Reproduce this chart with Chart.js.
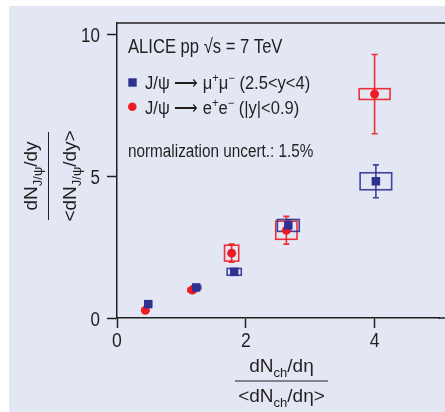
<!DOCTYPE html>
<html>
<head>
<meta charset="utf-8">
<script src="https://cdn.jsdelivr.net/npm/chart.js@4.4.1/dist/chart.umd.min.js"></script>
<style>
  html, body { margin: 0; padding: 0; background: #fff; }
  #wrap { width: 445px; height: 412px; }
</style>
</head>
<body>
<div id="wrap"><canvas id="jpsiChart" width="445" height="412"></canvas></div>
<script>
// J/psi yield vs charged-particle multiplicity (both relative to the mean)

// J/psi -> mu+ mu-  (2.5<y<4)
const muMult  = [0.485, 1.23, 1.82, 2.66, 4.02];
const muYield = [0.49, 1.08, 1.63, 3.27, 4.83];
const muStat  = [0.03, 0.05, 0.08, 0.20, 0.58];
const muSysX  = [0.05, 0.07, 0.11, 0.17, 0.245];
const muSysY  = [0.03, 0.05, 0.12, 0.21, 0.30];

// J/psi -> e+ e-  (|y|<0.9)
const eeMult  = [0.44, 1.17, 1.78, 2.63, 4.00];
const eeYield = [0.27, 0.99, 2.29, 3.10, 7.91];
const eeStat  = [0.05, 0.08, 0.32, 0.49, 1.40];
const eeSysX  = [0.05, 0.07, 0.11, 0.165, 0.24];
const eeSysY  = [0.03, 0.06, 0.28, 0.32, 0.19];

const xTicks = [0, 2, 4];
const yTicks = [0, 5, 10];

const BLUE = '#2e3192';
const RED = '#ed1c24';
const INK = '#231f20';
const FONT = "'Liberation Sans', Arial, sans-serif";

const toPoints = (xs, ys) => xs.map((v, i) => ({ x: v, y: ys[i] }));

// draws text made of normal / sub / sup pieces; sx squeezes it horizontally
function richText(ctx, parts, x, y, size, align, sx) {
  sx = sx || 1;
  const fontFor = m => (m ? Math.round(size * 0.68) : size) + 'px ' + FONT;
  let w = 0;
  parts.forEach(([t, m]) => { ctx.font = fontFor(m); w += ctx.measureText(t).width; });
  let start = 0;
  if (align === 'center') start = -w / 2;
  else if (align === 'right') start = -w;
  ctx.save();
  ctx.translate(x, y);
  ctx.scale(sx, 1);
  ctx.textBaseline = 'alphabetic';
  ctx.textAlign = 'left';
  let cx = start;
  parts.forEach(([t, m]) => {
    ctx.font = fontFor(m);
    const dy = m === 'sub' ? size * 0.28 : m === 'sup' ? -size * 0.38 : 0;
    ctx.fillText(t, cx, dy);
    cx += ctx.measureText(t).width;
  });
  ctx.restore();
  return w * sx;
}

// statistical error bars and systematic boxes under the markers
const uncertPlugin = {
  id: 'uncert',
  beforeDatasetsDraw(chart) {
    const { ctx, scales: { x, y } } = chart;
    ctx.save();
    chart.data.datasets.slice().reverse().forEach(ds => {
      ctx.strokeStyle = ds.boxColor;
      ctx.lineWidth = 1.6;
      ds.data.forEach((p, i) => {
        const px = x.getPixelForValue(p.x);
        const l = x.getPixelForValue(p.x - ds.sysX[i]);
        const r = x.getPixelForValue(p.x + ds.sysX[i]);
        const t = y.getPixelForValue(p.y + ds.sysY[i]);
        const b = y.getPixelForValue(p.y - ds.sysY[i]);
        ctx.strokeRect(l, t, r - l, b - t);
        const et = y.getPixelForValue(p.y + ds.stat[i]);
        const eb = y.getPixelForValue(p.y - ds.stat[i]);
        ctx.beginPath();
        ctx.moveTo(px, et); ctx.lineTo(px, eb);
        ctx.moveTo(px - 3, et); ctx.lineTo(px + 3, et);
        ctx.moveTo(px - 3, eb); ctx.lineTo(px + 3, eb);
        ctx.stroke();
      });
    });
    ctx.restore();
  }
};

// panel background, frame lines, tick labels, legend block and axis titles
const framePlugin = {
  id: 'frame',
  beforeDraw(chart) {
    const ctx = chart.ctx;
    ctx.save();
    ctx.fillStyle = '#fff';
    ctx.fillRect(0, 0, chart.width, chart.height);
    ctx.fillStyle = '#e3e7f3';
    ctx.fillRect(9, 6, chart.width - 9, chart.height - 6);
    ctx.restore();
  },
  afterDraw(chart) {
    const { ctx, chartArea: a, scales: { x, y } } = chart;
    ctx.save();
    ctx.strokeStyle = INK;
    ctx.lineWidth = 1.5;
    ctx.beginPath();
    ctx.moveTo(a.left, a.top);
    ctx.lineTo(chart.width, a.top);
    // the frame runs on past the last tick to the panel edge
    const y0 = y.getPixelForValue(0);
    ctx.moveTo(a.right - 1, y0);
    ctx.lineTo(chart.width, y0);
    ctx.stroke();

    ctx.fillStyle = INK;
    xTicks.forEach(v => richText(ctx, [[String(v), '']], x.getPixelForValue(v), a.bottom + 29, 20, 'center', 0.88));
    yTicks.forEach(v => richText(ctx, [[String(v), '']], a.left - 17, y.getPixelForValue(v) + 7.5, 20, 'right', 0.85));

    richText(ctx, [['ALICE pp \u221As = 7 TeV', '']], 128, 53, 20, 'left', 0.83);

    ctx.fillStyle = BLUE;
    ctx.fillRect(128.3, 78.3, 8.4, 8.4);
    ctx.fillStyle = RED;
    ctx.beginPath();
    ctx.arc(132.3, 106.7, 4.3, 0, Math.PI * 2);
    ctx.fill();

    ctx.fillStyle = INK;
    richText(ctx, [['J/\u03C8 \u27F6 \u03BC', ''], ['+', 'sup'], ['\u03BC', ''], ['\u2212', 'sup'], [' (2.5<y<4)', '']], 145, 88.5, 18, 'left', 0.92);
    richText(ctx, [['J/\u03C8 \u27F6 e', ''], ['+', 'sup'], ['e', ''], ['\u2212', 'sup'], [' (|y|<0.9)', '']], 145, 114, 18, 'left', 0.92);
    richText(ctx, [['normalization uncert.: 1.5%', '']], 128, 157, 18, 'left', 0.85);

    // x title as a fraction
    const xc = 281.5;
    richText(ctx, [['dN', ''], ['ch', 'sub'], ['/d\u03B7', '']], xc, 372, 19, 'center');
    richText(ctx, [['<dN', ''], ['ch', 'sub'], ['/d\u03B7>', '']], xc, 401.5, 19, 'center');
    ctx.beginPath();
    ctx.lineWidth = 1;
    ctx.moveTo(235, 381); ctx.lineTo(328, 381);
    ctx.stroke();

    // y title, rotated
    ctx.translate(48.5, 176);
    ctx.rotate(-Math.PI / 2);
    richText(ctx, [['dN', ''], ['J/\u03C8', 'sub'], ['/dy', '']], 0, -11.5, 19, 'center');
    richText(ctx, [['<dN', ''], ['J/\u03C8', 'sub'], ['/dy>', '']], 0, 27.5, 19, 'center');
    ctx.beginPath();
    ctx.moveTo(-44, 0); ctx.lineTo(44, 0);
    ctx.stroke();
    ctx.restore();
  }
};

const axisCommon = {
  type: 'linear',
  min: 0,
  grid: { drawOnChartArea: false, drawTicks: true, tickLength: 10, tickColor: INK, tickWidth: 1.5 },
  border: { display: true, color: INK, width: 1.5 },
  ticks: { display: false, includeBounds: false, autoSkip: false, maxRotation: 0 }
};

new Chart(document.getElementById('jpsiChart'), {
  type: 'scatter',
  data: {
    datasets: [
      {
        label: 'J/\u03C8 \u2192 \u03BC\u207A\u03BC\u207B (2.5<y<4)',
        data: toPoints(muMult, muYield),
        stat: muStat, sysX: muSysX, sysY: muSysY,
        boxColor: 'rgba(46,49,146,0.9)',
        pointStyle: 'rect',
        pointRadius: 6,
        backgroundColor: BLUE,
        borderWidth: 0
      },
      {
        label: 'J/\u03C8 \u2192 e\u207Ae\u207B (|y|<0.9)',
        data: toPoints(eeMult, eeYield),
        stat: eeStat, sysX: eeSysX, sysY: eeSysY,
        boxColor: 'rgba(237,28,36,0.9)',
        pointStyle: 'circle',
        pointRadius: 4.5,
        backgroundColor: RED,
        borderWidth: 0
      }
    ]
  },
  options: {
    responsive: false,
    animation: false,
    layout: { padding: { top: 23, left: 0, right: 0, bottom: 0 } },
    plugins: { legend: { display: false }, tooltip: { enabled: false } },
    scales: {
      x: {
        ...axisCommon,
        max: 5.0,
        ticks: { ...axisCommon.ticks, stepSize: 2 },
        afterFit: s => { s.height = 94; }
      },
      y: {
        ...axisCommon,
        max: 10.42,
        ticks: { ...axisCommon.ticks, stepSize: 5 },
        afterFit: s => { s.width = 117; }
      }
    }
  },
  plugins: [uncertPlugin, framePlugin]
});
</script>
</body>
</html>
